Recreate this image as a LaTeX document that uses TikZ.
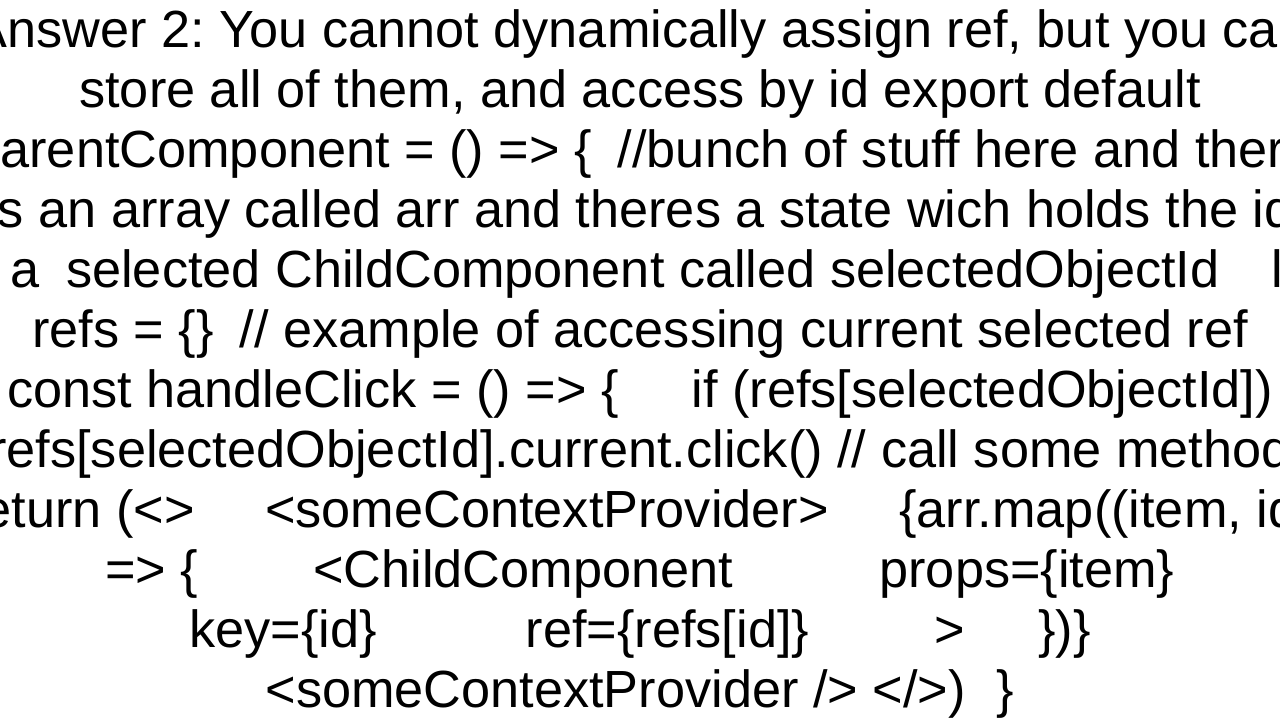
\documentclass[tikz,border=0pt]{standalone}
\usepackage{fontspec}
\setmainfont{Liberation Sans}
\frenchspacing
\newcommand{\gp}[1]{\hspace{#1em}}
\tikzset{ln/.style={anchor=base,inner sep=0pt,font=\fontsize{39.2pt}{45pt}\selectfont}}
\begin{document}
\begin{tikzpicture}[x=1pt,y=1pt]
\useasboundingbox (0,0) rectangle (960,540);
\fill[white] (0,0) rectangle (960,540);
\clip (0,0) rectangle (960,540);
\node[ln] (l1) at (480,504) {Answer 2: You cannot dynamically assign ref, but you can};
\node[ln] (l2) at (480,459) {store all of them, and access by id export default};
\node[ln] (l3) at (480,414) {ParentComponent = () => \{\gp{0.5}//bunch of stuff here and there};
\node[ln] (l4) at (480,369) {is an array called arr and theres a state wich holds the id};
\node[ln] (l5) at (480,324) {of a\gp{0.5}selected ChildComponent called selectedObjectId\gp{1}let};
\node[ln] (l6) at (480,279) {refs = \{\}\gp{0.5}// example of accessing current selected ref};
\node[ln] (l7) at (480,234) {const handleClick = () => \{\gp{1.4}if (refs[selectedObjectId])};
\node[ln] (l8) at (480,189) {refs[selectedObjectId].current.click() // call some method};
\node[ln] (l9) at (480,144) {return (<>\gp{1.35}<someContextProvider>\gp{1.35}\{arr.map((item, id)};
\node[ln] (l10) at (480,99) {=> \{\gp{2.2}<ChildComponent\gp{2.8}props=\{item\}};
\node[ln] (l11) at (480,54) {key=\{id\}\gp{2.85}ref=\{refs[id]\}\gp{2.4}>\gp{1.4}\})\}};
\node[ln] (l12) at (480,9) {<someContextProvider /> </>)\gp{0.6}\}};
\end{tikzpicture}
\end{document}
